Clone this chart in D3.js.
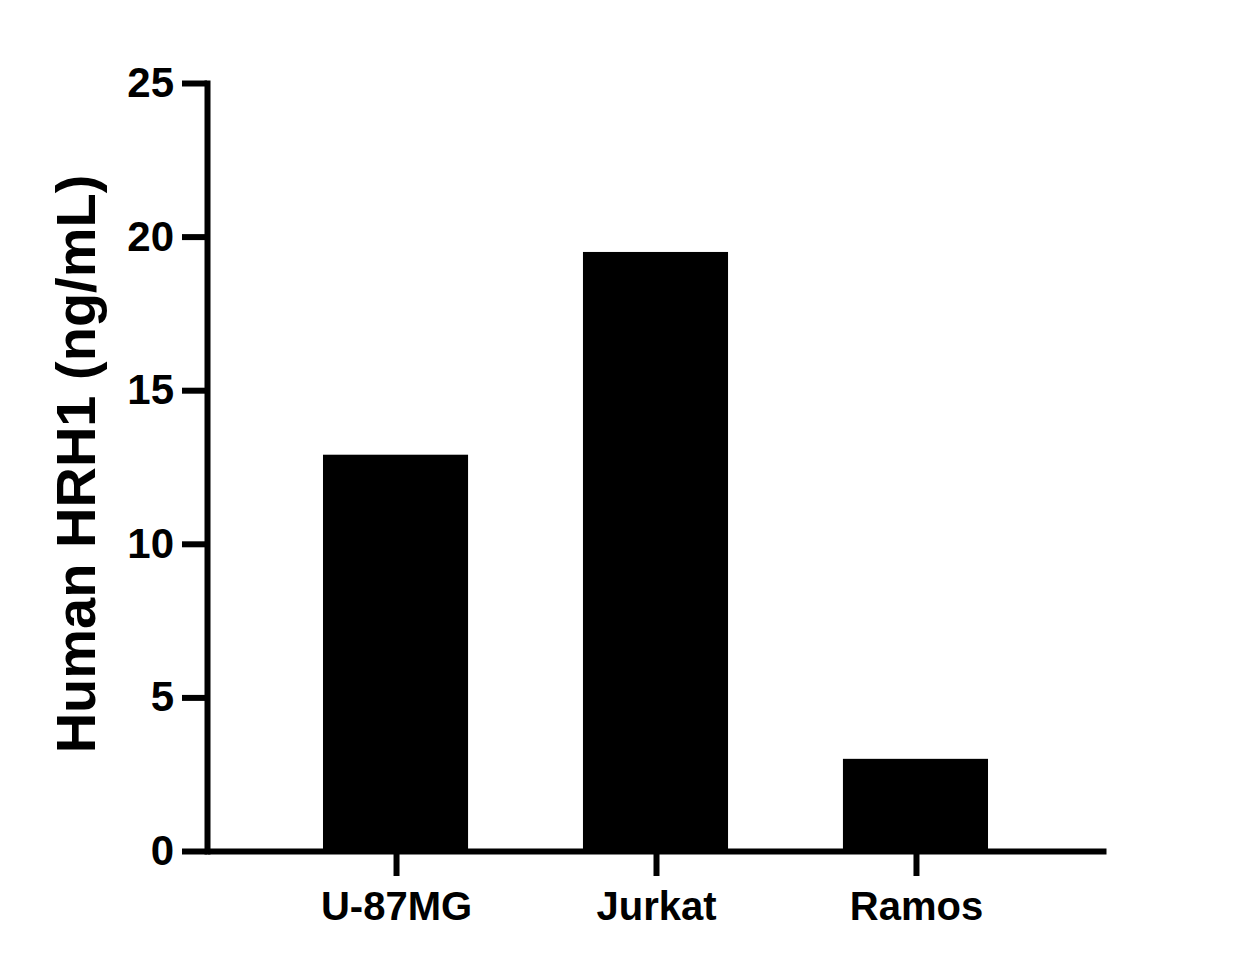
<!DOCTYPE html>
<html>
<head>
<meta charset="utf-8">
<script src="https://cdn.jsdelivr.net/npm/d3@7"></script>
<style>
  body { margin: 0; background: #fff; }
  svg text { font-family: "Liberation Sans", Arial, sans-serif; font-weight: bold; fill: #000; }
</style>
</head>
<body>
<div id="chart"></div>
<script>
// Données
const categories = ["U-87MG", "Jurkat", "Ramos"];
const values = [12.9, 19.5, 3.0];
const yTicks = [0, 5, 10, 15, 20, 25];
const yTitle = "Human HRH1 (ng/mL)";

const width = 1242, height = 967;
const plotLeft = 207, plotRight = 1106, plotTop = 83, plotBottom = 851;

const svg = d3.select("#chart").append("svg")
    .attr("width", width)
    .attr("height", height);

const x = d3.scaleBand()
    .domain(categories)
    .range([plotLeft, plotRight])
    .paddingInner(0.442)
    .paddingOuter(0.45);

const y = d3.scaleLinear()
    .domain([0, 25])
    .range([plotBottom, plotTop]);

// Barres
svg.append("g")
    .selectAll("rect")
    .data(categories)
    .enter().append("rect")
    .attr("x", d => x(d) - 1)
    .attr("width", x.bandwidth())
    .attr("y", (d, i) => y(values[i]))
    .attr("height", (d, i) => plotBottom - y(values[i]))
    .attr("fill", "#000");

// Axe Y
const yAxis = svg.append("g")
    .attr("transform", `translate(${plotLeft},0)`)
    .call(d3.axisLeft(y).tickValues(yTicks).tickSize(25).tickSizeOuter(0).tickPadding(8));

// Axe X
const xAxis = svg.append("g")
    .attr("transform", `translate(0,${plotBottom})`)
    .call(d3.axisBottom(x).tickSize(25).tickSizeOuter(0).tickPadding(16));

[yAxis, xAxis].forEach(g => {
    g.select(".domain").attr("stroke", "#000").attr("stroke-width", 6);
    g.selectAll(".tick line").attr("stroke", "#000").attr("stroke-width", 6);
});
yAxis.select(".domain").attr("stroke-linecap", "square");

yAxis.selectAll(".tick text").style("font-size", "42px");
xAxis.selectAll(".tick text").style("font-size", "40px");

// Titre de l'axe Y
svg.append("text")
    .attr("transform", "translate(95,464) rotate(-90)")
    .attr("text-anchor", "middle")
    .style("font-size", "56px")
    .text(yTitle);
</script>
</body>
</html>
